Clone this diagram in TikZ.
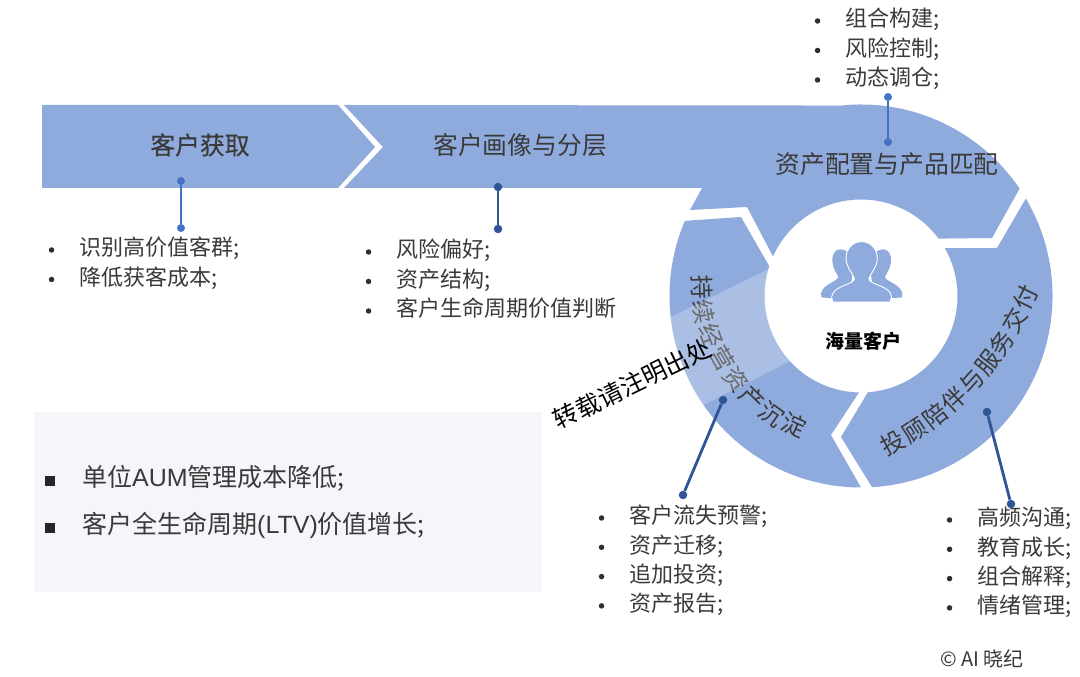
\documentclass[tikz,border=0pt]{standalone}
\usepackage{fontspec}
\setmainfont{Noto Sans CJK SC}[Script=CJK, Language=Chinese Simplified, Kerning=Off]
\newfontfamily\latinfont{Liberation Sans}
\newfontfamily\midfont{Noto Sans CJK SC}[Script=CJK, Language=Chinese Simplified, Kerning=Off, FakeBold=0.4]
\usetikzlibrary{positioning}
\definecolor{ringblue}{HTML}{8FAADC}
\definecolor{linelight}{HTML}{4472C4}
\definecolor{linedark}{HTML}{2F5597}
\definecolor{panelgrey}{HTML}{F4F6FA}
\definecolor{textgrey}{HTML}{3A3A3A}
\newcommand{\fsize}[1]{\fontsize{#1pt}{#1pt}\selectfont}
\begin{document}
\begin{tikzpicture}[x=1pt, y=1pt,
  shapefill/.style={fill=ringblue, draw=none},
  title/.style={inner sep=0pt, text=textgrey, font=\fsize{24.8}},
  arcchar/.style={inner sep=0pt, text=textgrey, font=\fsize{24}},
  item/.style={anchor=west, inner sep=0pt, text=textgrey, text height=17pt, text depth=5pt, font=\fsize{22}},
  panelitem/.style={item, font=\fsize{25}},
  roundmark/.style={circle, fill=textgrey!80!black, inner sep=0pt, minimum size=5.5pt},
  squaremark/.style={rectangle, fill=black!85, inner sep=0pt, minimum size=9.5pt},
  dotlight/.style={circle, fill=linelight, inner sep=0pt, minimum size=8pt},
  dotdark/.style={circle, fill=linedark, inner sep=0pt, minimum size=8.5pt},
  leadlight/.style={draw=linelight, line width=2pt},
  leaddark/.style={draw=linedark, line width=2.8pt},
  person/.style={fill=ringblue, draw=white, line width=.9pt},
]
\useasboundingbox (0,0) rectangle (1080,677);
\fill[white] (0,0) rectangle (1080,677);
\coordinate (C) at (861,381);

% panel
\fill[panelgrey] (34,85) rectangle (542,265);

% chevrons and ring
\path[shapefill] (42,572) -- (338,572) -- (375,530) -- (338,489) -- (42,489) -- cycle;
\path[shapefill] (344,572) -- ([shift={(96:191.5)}]C) arc[start angle=96, end angle=34.1, radius=191.5]
  -- (992,439) -- ([shift={(36.5:96.5)}]C) arc[start angle=36.5, end angle=155.8, radius=96.5]
  -- (747,470) -- (690,467) -- (702,489) -- (344,489) -- (383,530) -- cycle;
\path[shapefill] ([shift={(30.6:191.5)}]C) arc[start angle=30.6, end angle=-86.7, radius=191.5]
  -- (841,240) -- ([shift={(-85.9:96.5)}]C) arc[start angle=-85.9, end angle=29.7, radius=96.5]
  -- (997,429) -- cycle;
\path[shapefill] ([shift={(156.9:191.5)}]C) arc[start angle=156.9, end angle=270, radius=191.5]
  -- (831,242) -- ([shift={(268.8:96.5)}]C) arc[start angle=268.8, end angle=162, radius=96.5]
  -- (741,460) -- cycle;

% titles
\node[title, font=\fsize{24.8}\midfont] (acquire) at (200,532) {客户获取};
\node[title] (profile) at (520,532) {客户画像与分层};
\node[title] (allocate) at (887,513) {资产配置与产品匹配};

% text along the ring
\node[arcchar, rotate=-88] (k1) at (702,390) {持};
\node[arcchar, rotate=-80] (k2) at (704,365) {续};
\node[arcchar, rotate=-70] (k3) at (711,341) {经};
\node[arcchar, rotate=-60] (k4) at (722,319) {营};
\node[arcchar, rotate=-52] (k5) at (736,298) {资};
\node[arcchar, rotate=-44] (k6) at (752,279) {产};
\node[arcchar, rotate=-36] (k7) at (771,263) {沉};
\node[arcchar, rotate=-24] (k8) at (794,252) {淀};

\node[arcchar, rotate=28] (g1) at (893,234) {投};
\node[arcchar, rotate=33] (g2) at (915,246) {顾};
\node[arcchar, rotate=38] (g3) at (935,261) {陪};
\node[arcchar, rotate=43] (g4) at (954,277) {伴};
\node[arcchar, rotate=48] (g5) at (972,295) {与};
\node[arcchar, rotate=52] (g6) at (988,314) {服};
\node[arcchar, rotate=56] (g7) at (1002,334) {务};
\node[arcchar, rotate=60] (g8) at (1015,356) {交};
\node[arcchar, rotate=64] (g9) at (1026,379) {付};

% lighter band
\fill[white, opacity=.25] ([shift={(164:96.5)}]C) -- ([shift={(186.3:191.5)}]C)
  arc[start angle=186.3, end angle=214.7, radius=191.5]
  -- ([shift={(222.5:96.5)}]C) arc[start angle=222.5, end angle=164, radius=96.5] -- cycle;

\node[inner sep=0pt, text=black, rotate=26, font=\fsize{24.5}] (notice) at (632,293) {转载请注明出处};

% people
\begin{scope}[shift={(810,447)}, x=.3333pt, y=-.3333pt]
\path[person, draw=none] (90,58) .. controls (75,58) and (65,75) .. (67,95) .. controls (68,115) and (80,130) .. (85,140)
  .. controls (85,155) and (40,160) .. (33,190) -- (35,203) -- (120,205) -- (130,100) -- (112,65) .. controls (105,60) and (98,58) .. (90,58) -- cycle;
\path[person, draw=none] (220,58) .. controls (235,58) and (245,75) .. (243,95) .. controls (242,115) and (230,130) .. (225,140)
  .. controls (225,155) and (270,160) .. (277,190) -- (275,203) -- (190,205) -- (180,100) -- (198,65) .. controls (205,60) and (212,58) .. (220,58) -- cycle;
\path[person] (155,35) .. controls (125,35) and (108,60) .. (108,85) .. controls (108,110) and (125,125) .. (133,145)
  .. controls (135,165) and (70,165) .. (65,200) -- (68,216) -- (240,216) -- (245,200)
  .. controls (240,165) and (175,165) .. (177,145) .. controls (185,125) and (202,110) .. (202,85)
  .. controls (202,60) and (185,35) .. (155,35) -- cycle;
\end{scope}
\node[inner sep=0pt, text=black, font=\fsize{19}\bfseries] (center) at (863,336) {海量客户};

% lists
\node[item] (A1) at (79,427) {识别高价值客群;};
\node[item] (A2) [below=29.5pt of A1.west, anchor=west] {降低获客成本;};
\node[item] (B1) at (396,425) {风险偏好;};
\node[item] (B2) [below=29.5pt of B1.west, anchor=west] {资产结构;};
\node[item] (B3) [below=29.5pt of B2.west, anchor=west] {客户生命周期价值判断};
\node[item] (T1) at (845,656) {组合构建;};
\node[item] (T2) [below=29.5pt of T1.west, anchor=west] {风险控制;};
\node[item] (T3) [below=29.5pt of T2.west, anchor=west] {动态调仓;};
\node[item] (L1) at (629,159) {客户流失预警;};
\node[item] (L2) [below=29.3pt of L1.west, anchor=west] {资产迁移;};
\node[item] (L3) [below=29.3pt of L2.west, anchor=west] {追加投资;};
\node[item] (L4) [below=29.3pt of L3.west, anchor=west] {资产报告;};
\node[item] (R1) at (977,157) {高频沟通;};
\node[item] (R2) [below=29.3pt of R1.west, anchor=west] {教育成长;};
\node[item] (R3) [below=29.3pt of R2.west, anchor=west] {组合解释;};
\node[item] (R4) [below=29.3pt of R3.west, anchor=west] {情绪管理;};
\node[panelitem] (P1) at (82,196) {单位{\latinfont AUM}管理成本降低;};
\node[panelitem] (P2) [below=47pt of P1.west, anchor=west] {客户全生命周期{\latinfont (LTV)}价值增长;};

\node[roundmark] (A1m) [left=24.5pt of A1] {};
\node[roundmark] (A2m) [left=24.5pt of A2] {};
\node[roundmark] (B1m) [left=24.5pt of B1] {};
\node[roundmark] (B2m) [left=24.5pt of B2] {};
\node[roundmark] (B3m) [left=24.5pt of B3] {};
\node[roundmark] (T1m) [left=24.5pt of T1] {};
\node[roundmark] (T2m) [left=24.5pt of T2] {};
\node[roundmark] (T3m) [left=24.5pt of T3] {};
\node[roundmark] (L1m) [left=24.5pt of L1] {};
\node[roundmark] (L2m) [left=24.5pt of L2] {};
\node[roundmark] (L3m) [left=24.5pt of L3] {};
\node[roundmark] (L4m) [left=24.5pt of L4] {};
\node[roundmark] (R1m) [left=24.5pt of R1] {};
\node[roundmark] (R2m) [left=24.5pt of R2] {};
\node[roundmark] (R3m) [left=24.5pt of R3] {};
\node[roundmark] (R4m) [left=24.5pt of R4] {};
\node[squaremark] (P1m) [left=27pt of P1] {};
\node[squaremark] (P2m) [left=27pt of P2] {};

\node[inner sep=0pt, text=textgrey, font=\fsize{20}] (credit) at (982,18) {© AI 晓纪};

% leaders
\node[dotlight] (a) at (181,496) {};
\node[dotlight] (a') at (181,449) {};
\node[dotdark] (b) at (498,490) {};
\node[dotdark] (b') at (498,448) {};
\node[dotlight] (t) at (888,580) {};
\node[dotlight] (t') at (888,535) {};
\node[dotdark] (l) at (723,277) {};
\node[dotdark] (l') at (683,182) {};
\node[dotdark] (r) at (987,265) {};
\node[dotdark] (r') at (1011,173) {};
\draw[leadlight] (a) -- (a');
\draw[leaddark] (b) -- (b');
\draw[leadlight] (t) -- (t');
\draw[leaddark] (l) -- (l');
\draw[leaddark] (r) -- (r');
\end{tikzpicture}
\end{document}
